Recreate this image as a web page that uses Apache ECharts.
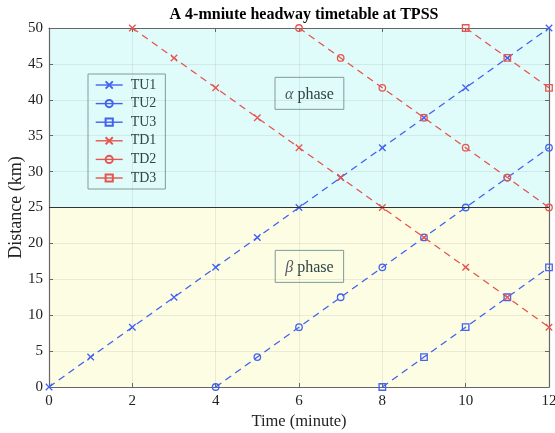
<!DOCTYPE html>
<html><head><meta charset="utf-8">
<script src="https://cdn.jsdelivr.net/npm/echarts@6/dist/echarts.min.js"></script>
<style>html,body{margin:0;padding:0;background:#fff}#c{width:555px;height:433px}</style>
</head><body><div id="c"></div>
<script>
const xTicks = [0, 2, 4, 6, 8, 10, 12];
const yTicks = [0, 5, 10, 15, 20, 25, 30, 35, 40, 45, 50];
const tu1Time = [0,1,2,3,4,5,6,7,8,9,10,11,12];
const tu1Dist = [0,4.17,8.33,12.5,16.67,20.83,25,29.17,33.33,37.5,41.67,45.83,50];
const tu2Time = [4,5,6,7,8,9,10,11,12];
const tu2Dist = [0,4.17,8.33,12.5,16.67,20.83,25,29.17,33.33];
const tu3Time = [8,9,10,11,12];
const tu3Dist = [0,4.17,8.33,12.5,16.67];
const td1Time = [2,3,4,5,6,7,8,9,10,11,12];
const td1Dist = [50,45.83,41.67,37.5,33.33,29.17,25,20.83,16.67,12.5,8.33];
const td2Time = [6,7,8,9,10,11,12];
const td2Dist = [50,45.83,41.67,37.5,33.33,29.17,25];
const td3Time = [10,11,12];
const td3Dist = [50,45.83,41.67];
const phaseBoundary = 25;
const alphaPos = [6.25, 40.9];
const betaPos = [6.25, 16.8];

const BLUE = '#4262f2', RED = '#e6554f';
const CROSS = 'path://M0,0L10,10M10,0L0,10';
const serif = 'Liberation Serif, Times New Roman, serif';
const zip = (a, b) => a.map((v, i) => [v, b[i]]);

function mk(name, t, d, color, sym) {
  const isCross = sym === 'cross';
  return {
    name, type: 'line', data: zip(t, d),
    symbol: isCross ? CROSS : sym, symbolSize: 6.5,
    showAllSymbol: true,
    lineStyle: { color, width: 1.3, type: [7, 5] },
    itemStyle: { color: isCross ? color : 'rgba(0,0,0,0)', borderColor: color, borderWidth: 1.3 },
    emphasis: { disabled: true }, z: 3
  };
}

const chart = echarts.init(document.getElementById('c'));
const axisCommon = {
  type: 'value', min: 0, z: 2,
  axisLine: { show: true, onZero: false, lineStyle: { color: '#666', width: 1.2 } },
  axisTick: { show: true, inside: true, length: 4, lineStyle: { color: '#666' } },
  axisLabel: { color: '#222', fontFamily: serif, fontSize: 15 },
};
chart.setOption({
  animation: false,
  title: { text: 'A 4-mniute headway timetable at TPSS', left: 299, top: 2, textAlign: 'center',
    textStyle: { fontFamily: serif, fontSize: 16, fontWeight: 'bold', color: '#000' } },
  grid: { left: 49, right: 6, top: 28, bottom: 46, containLabel: false, outerBoundsMode: 'none' },
  legend: {
    data: ['TU1','TU2','TU3','TD1','TD2','TD3'], orient: 'vertical', left: 88, top: 74,
    itemWidth: 27, itemHeight: 9, itemGap: 4.6, padding: [4, 9, 4, 7],
    borderColor: '#7f9a9a', borderWidth: 1, backgroundColor: 'rgba(0,0,0,0)',
    lineStyle: { type: 'solid', width: 1.4 },
    textStyle: { fontFamily: serif, fontSize: 14, color: '#2f4545', padding: [0, 0, 0, 3] }
  },
  xAxis: [
    Object.assign({}, axisCommon, { max: 12, interval: 2,
      name: 'Time (minute)', nameLocation: 'middle', nameGap: 26, nameMoveOverlap: false,
      nameTextStyle: { fontFamily: serif, fontSize: 16.5, color: '#222' },
      axisLabel: Object.assign({}, axisCommon.axisLabel, { margin: 7 }),
      splitLine: { show: true, lineStyle: { color: 'rgba(0,0,0,0.07)' } } }),
    Object.assign({}, axisCommon, { max: 12, interval: 2, position: 'top', axisLabel: { show: false }, splitLine: { show: false } })
  ],
  yAxis: [
    Object.assign({}, axisCommon, { max: 50, interval: 5,
      name: 'Distance (km)', nameLocation: 'middle', nameGap: 24, nameMoveOverlap: false,
      nameTextStyle: { fontFamily: serif, fontSize: 18, color: '#222' },
      axisLabel: Object.assign({}, axisCommon.axisLabel, { margin: 6 }),
      splitLine: { show: true, lineStyle: { color: 'rgba(0,0,0,0.07)' } } }),
    Object.assign({}, axisCommon, { max: 50, interval: 5, position: 'right', axisLabel: { show: false }, splitLine: { show: false } })
  ],
  series: [
    { name: 'bg', type: 'line', data: [], z: 1, silent: true,
      markArea: { silent: true, data: [
        [{ coord: [0, phaseBoundary], itemStyle: { color: '#e0fcfa' } }, { coord: [12, 50] }],
        [{ coord: [0, 0], itemStyle: { color: '#fdfde3' } }, { coord: [12, phaseBoundary] }]
      ] },
      markLine: { silent: true, symbol: 'none', label: { show: false },
        lineStyle: { color: '#333', type: 'solid', width: 1.2 },
        data: [{ yAxis: phaseBoundary }] },
      markPoint: { silent: true, symbol: 'rect', symbolSize: 0, data: [
        { coord: alphaPos, label: { formatter: '{a|α} phase' } },
        { coord: betaPos, label: { formatter: '{a|β} phase' } }
      ], label: { show: true, position: 'inside', fontFamily: serif, fontSize: 16, color: '#2f4545',
        borderColor: '#7f9a9a', borderWidth: 1, padding: [9, 10, 7, 10],
        rich: { a: { fontStyle: 'italic', fontFamily: serif, fontSize: 16, color: '#556' } } } }
    },
    mk('TU1', tu1Time, tu1Dist, BLUE, 'cross'),
    mk('TU2', tu2Time, tu2Dist, BLUE, 'circle'),
    mk('TU3', tu3Time, tu3Dist, BLUE, 'rect'),
    mk('TD1', td1Time, td1Dist, RED, 'cross'),
    mk('TD2', td2Time, td2Dist, RED, 'circle'),
    mk('TD3', td3Time, td3Dist, RED, 'rect')
  ]
});
</script></body></html>
